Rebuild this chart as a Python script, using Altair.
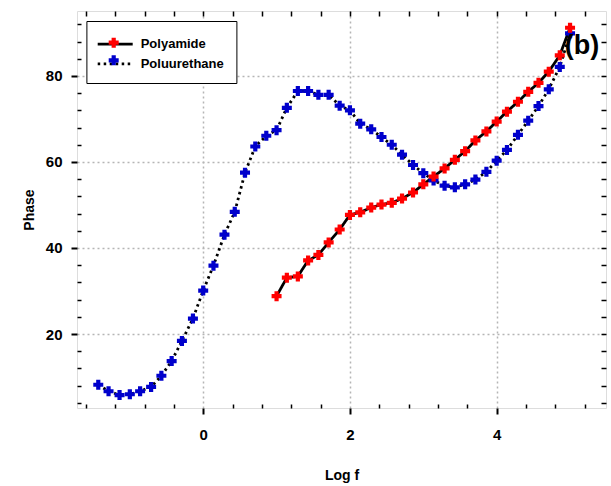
import altair as alt
import pandas as pd

series_names = ["Polyamide", "Poluurethane"]
series_keys = ["PA", "PU"]
series_colors = ["#ff0000", "#0000cc"]

pa_logf = [1.00, 1.14, 1.29, 1.43, 1.57, 1.71, 1.86, 2.00, 2.14, 2.29, 2.43, 2.57, 2.71, 2.86,
           3.00, 3.14, 3.29, 3.43, 3.57, 3.71, 3.86, 4.00, 4.14, 4.29, 4.43, 4.57, 4.71, 4.86, 5.00]
pa_phase = [28.8, 33.1, 33.4, 37.1, 38.4, 41.3, 44.3, 47.7, 48.3, 49.4, 50.1, 50.5, 51.5, 52.9,
            54.8, 56.6, 58.5, 60.5, 62.5, 65.0, 67.1, 69.4, 71.7, 74.0, 76.3, 78.4, 81.0, 84.8, 91.2]

pu_logf = [-1.43, -1.29, -1.14, -1.00, -0.86, -0.71, -0.57, -0.43, -0.29, -0.14, 0.00, 0.14,
           0.29, 0.43, 0.57, 0.71, 0.86, 1.00, 1.14, 1.29, 1.43, 1.57, 1.71, 1.86, 2.00, 2.14,
           2.29, 2.43, 2.57, 2.71, 2.86, 3.00, 3.14, 3.29, 3.43, 3.57, 3.71, 3.86, 4.00, 4.14,
           4.29, 4.43, 4.57, 4.71, 4.86, 5.00]
pu_phase = [8.2, 6.7, 5.8, 6.0, 6.7, 7.7, 10.3, 13.7, 18.4, 23.6, 30.1, 35.9,
            43.1, 48.4, 57.5, 63.6, 66.1, 67.4, 72.6, 76.5, 76.5, 75.6, 75.6, 73.1, 72.0, 68.9,
            67.6, 65.8, 64.0, 61.7, 59.3, 57.4, 55.7, 54.5, 54.1, 54.8, 55.9, 57.7, 60.3, 62.8,
            66.3, 69.6, 73.0, 76.9, 82.1, 89.9]

x_major = [0, 2, 4]
x_minor = [-1.6, -1.2, -0.8, -0.4, 0.4, 0.8, 1.2, 1.6, 2.4, 2.8, 3.2, 3.6, 4.4, 4.8, 5.2]
x_top = [-1.6, -1.2, -0.8, -0.4, 0.0, 0.4, 0.8, 1.2, 1.6, 2.0, 2.4, 2.8, 3.2, 3.6, 4.0, 4.4, 4.8, 5.2]
y_major = [20, 40, 60, 80]
y_minor = [4, 8, 12, 16, 24, 28, 32, 36, 44, 48, 52, 56, 64, 68, 72, 76, 84, 88, 92]
y_right = [4, 8, 12, 16, 20, 24, 28, 32, 36, 40, 44, 48, 52, 56, 60, 64, 68, 72, 76, 80, 84, 88, 92]

rows = []
for lf, ph in zip(pu_logf, pu_phase):
    rows.append({"series": series_names[1], "key": series_keys[1], "logf": lf, "phase": ph})
for lf, ph in zip(pa_logf, pa_phase):
    rows.append({"series": series_names[0], "key": series_keys[0], "logf": lf, "phase": ph})
df = pd.DataFrame(rows)

FONT = "Liberation Sans"
XDOM = [-1.72, 5.49]
YDOM = [2.8, 95.1]


def xs():
    return alt.Scale(domain=XDOM, nice=False, zero=False)


def ys():
    return alt.Scale(domain=YDOM, nice=False, zero=False)


CROSS = ("M-1,-0.42L-0.42,-0.42L-0.42,-1L0.42,-1L0.42,-0.42L1,-0.42L1,0.42L0.42,0.42"
         "L0.42,1L-0.42,1L-0.42,0.42L-1,0.42Z")
LEG_CROSS = ("M-0.5,-0.21L-0.21,-0.21L-0.21,-0.5L0.21,-0.5L0.21,-0.21L0.5,-0.21L0.5,0.21"
             "L0.21,0.21L0.21,0.5L-0.21,0.5L-0.21,0.21L-0.5,0.21Z")

leg_common = dict(orient="none", legendX=9.4, legendY=10, title=None, padding=11.7,
                  symbolSize=400, symbolOffset=5.6, labelOffset=14, rowPadding=0.6,
                  labelFont=FONT, labelFontSize=13, labelFontWeight="bold", labelColor="black")

base = alt.Chart(df)

lines = base.mark_line(color="black", strokeWidth=2.8).encode(
    x=alt.X("logf:Q", scale=xs(), axis=alt.Axis(
        orient="bottom", values=x_major, grid=True, gridDash=[2, 3], gridColor="#b5b5b5",
        gridWidth=1.5, tickSize=6, tickWidth=2, tickColor="black", domain=False,
        labelFont=FONT, labelFontSize=15, labelFontWeight="bold", labelColor="black",
        labelPadding=13, title="Log f", titleFont=FONT, titleFontSize=14,
        titleFontWeight="bold", titleColor="black", titlePadding=26)),
    y=alt.Y("phase:Q", scale=ys(), axis=alt.Axis(
        orient="left", values=y_major, grid=True, gridDash=[2, 3], gridColor="#b5b5b5",
        gridWidth=1.5, tickSize=6, tickWidth=2, tickColor="black", domain=False,
        labelFont=FONT, labelFontSize=15, labelFontWeight="bold", labelColor="black",
        labelPadding=9, title="Phase", titleFont=FONT, titleFontSize=14,
        titleFontWeight="bold", titleColor="black", titlePadding=9)),
    strokeDash=alt.StrokeDash("series:N", scale=alt.Scale(
        domain=series_names, range=[[1, 0], [2.5, 3.5]]),
        legend=alt.Legend(symbolType="M-1.75,0L1.75,0", symbolStrokeColor="black",
                          symbolStrokeWidth=2.8, strokeColor="black",
                          fillColor="white", zindex=1, **leg_common)),
)

points = base.mark_point(filled=True, size=100, shape=CROSS, opacity=1).encode(
    x=alt.X("logf:Q", scale=xs(), axis=alt.Axis(
        orient="bottom", values=x_minor, offset=-4, tickSize=4, tickWidth=1.5,
        tickColor="black", labels=False, domain=False, grid=False, title=None)),
    y=alt.Y("phase:Q", scale=ys(), axis=alt.Axis(
        orient="left", values=y_minor, offset=-4, tickSize=4, tickWidth=1.5,
        tickColor="black", labels=False, domain=False, grid=False, title=None)),
    color=alt.Color("key:N", scale=alt.Scale(domain=series_keys, range=series_colors),
                    legend=alt.Legend(symbolType=LEG_CROSS, symbolStrokeWidth=0,
                                      labelExpr="''", zindex=2, **leg_common)),
)

frame_ticks = base.mark_point(opacity=0).encode(
    x=alt.X("logf:Q", scale=xs(), axis=alt.Axis(
        orient="top", values=x_top, offset=-5, tickSize=5, tickWidth=1.5,
        tickColor="black", labels=False, domain=False, grid=False, title=None)),
    y=alt.Y("phase:Q", scale=ys(), axis=alt.Axis(
        orient="right", values=y_right, offset=-5, tickSize=5, tickWidth=1.5,
        tickColor="black", labels=False, domain=False, grid=False, title=None)),
)

panel_label = alt.Chart(pd.DataFrame({"t": ["(b)"]})).mark_text(
    font=FONT, fontSize=27, fontWeight="bold", color="black", align="center",
    baseline="middle").encode(x=alt.value(505), y=alt.value(34.5), text="t:N")

chart = alt.layer(frame_ticks, lines, points, panel_label).resolve_axis(
    x="independent", y="independent"
).resolve_scale(x="shared", y="shared").properties(
    width=529, height=397,
    autosize=alt.AutoSizeParams(type="none"),
    padding={"left": 77, "top": 11, "right": 5, "bottom": 78},
).configure_view(stroke="black", strokeWidth=2.5).configure_legend(
    strokeWidth=2, cornerRadius=0
).configure(background="white")

chart.save("out.html", embed_options={"renderer": "svg", "actions": False})
